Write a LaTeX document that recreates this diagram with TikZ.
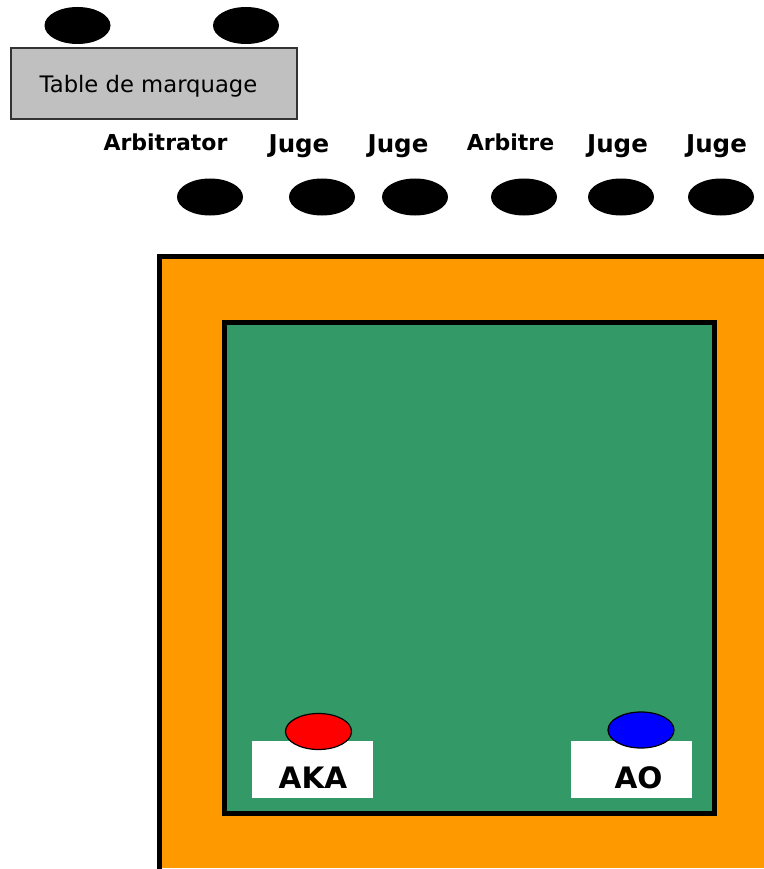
\documentclass[tikz,border=0pt]{standalone}
\usepackage{fontspec}
\setmainfont{DejaVu Sans}
\usetikzlibrary{shapes.geometric}
\definecolor{matorange}{HTML}{FF9900}
\definecolor{matgreen}{HTML}{339966}
\definecolor{tablegray}{HTML}{C0C0C0}
\tikzset{
  seat/.style={ellipse, fill=black, minimum width=66pt, minimum height=37pt, inner sep=0pt},
  fighter/.style={ellipse, draw=black, line width=1.2pt, minimum width=66pt, minimum height=36pt, inner sep=0pt},
  smalllabel/.style={anchor=base, inner sep=0pt, font=\fontsize{22}{26}\selectfont\bfseries},
  judgelabel/.style={anchor=base, inner sep=0pt, font=\fontsize{24.5}{28}\selectfont\bfseries},
  namebox/.style={fill=white, minimum width=121pt, minimum height=57pt, inner sep=0pt},
  namelabel/.style={anchor=base, inner sep=0pt, font=\fontsize{29.5}{34}\selectfont\bfseries}
}
\begin{document}
\begin{tikzpicture}[x=1pt,y=-1pt]
\useasboundingbox (0,0) rectangle (763,869);
% scoring table
\node[seat] (s1) at (77.5,25.5) {};
\node[seat] (s2) at (246,25.5) {};
\node[draw=black!80, line width=1.3pt, fill=tablegray, minimum width=286pt, minimum height=71pt, inner sep=0pt] (table) at (154,83.5) {};
\node[anchor=base, inner sep=0pt, font=\fontsize{22.7}{27}\selectfont] (tabletext) at (148.5,93) {Table de marquage};
% labels
\node[smalllabel] (l1) at (165.5,151) {Arbitrator};
\node[judgelabel] (l2) at (299,153) {Juge};
\node[judgelabel] (l3) at (398,153) {Juge};
\node[smalllabel] (l4) at (510.5,151) {Arbitre};
\node[judgelabel] (l5) at (617.5,153) {Juge};
\node[judgelabel] (l6) at (716.5,153) {Juge};
% official seats
\node[seat] (o1) at (210,197) {};
\node[seat] (o2) at (322,197) {};
\node[seat] (o3) at (415,197) {};
\node[seat] (o4) at (524,197) {};
\node[seat] (o5) at (621,197) {};
\node[seat] (o6) at (721,197) {};
% mat
\fill[matorange] (159,256.5) rectangle (790,867.5);
\draw[line width=5pt] (159,890) -- (159,256.5) -- (790,256.5);
\draw[line width=5pt, fill=matgreen] (224,322.5) rectangle (714,813.5);
% fighters
\node[namebox] (akabox) at (312.5,769.5) {};
\node[namebox] (aobox) at (631.5,769.5) {};
\node[fighter, fill=red] (aka) at (318.5,731.5) {};
\node[fighter, fill=blue] (ao) at (641,730) {};
\node[namelabel] (akatext) at (313,788) {AKA};
\node[namelabel] (aotext) at (638.5,788) {AO};
\end{tikzpicture}
\end{document}
